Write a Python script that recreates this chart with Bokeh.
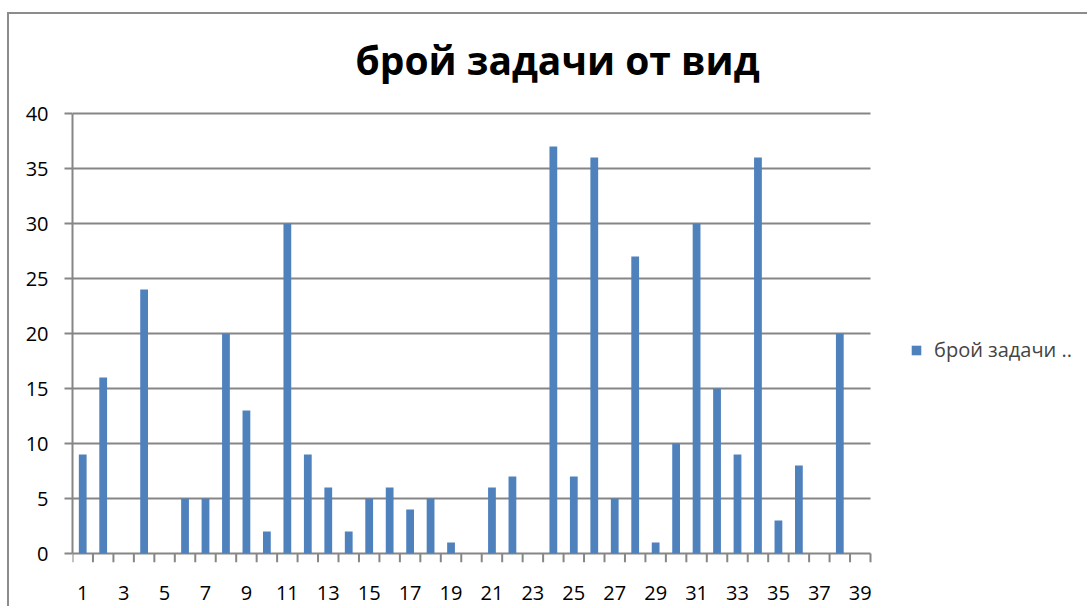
from bokeh.plotting import figure
from bokeh.models import FixedTicker, Legend, LegendItem, ColumnDataSource, Range1d, Label
from bokeh.embed import file_html
from bokeh.resources import INLINE

categories = list(range(1, 40))
values = [9, 16, 0, 24, 0, 5, 5, 20, 13, 2, 30, 9, 6, 2, 5, 6, 4, 5, 1, 0,
          6, 7, 0, 37, 7, 36, 5, 27, 1, 10, 30, 15, 9, 36, 3, 8, 0, 20, 0]
y_ticks = [0, 5, 10, 15, 20, 25, 30, 35, 40]
x_tick_values = [c for c in categories if c % 2 == 1]
series_name = "брой задачи .."
title_text = "брой задачи от вид"

FONT = "Open Sans"
BAR = "#4F81BD"
GRID = "#868686"

# pixel layout (canvas coordinates)
CANVAS_W, CANVAS_H = 1080, 594
LEFT, BOTTOM = 63, 46          # frame: x 63..1080, y 0..548
PLOT_TOP, PLOT_H = 99, 440     # where y=40 .. y=0 sit inside the frame
TICK_PX = 9
CAT_PX = 798                   # width in px taken by the category axis
frame_w = CANVAS_W - LEFT
x0 = categories[0] - 0.5
x1 = categories[-1] + 0.5
x_end = x0 + (x1 - x0) * frame_w / CAT_PX
px_per_unit = PLOT_H / (y_ticks[-1] - y_ticks[0])
y_start = y_ticks[0] - TICK_PX / px_per_unit
y_end = y_ticks[-1] + PLOT_TOP / px_per_unit

src = ColumnDataSource(dict(x=categories, top=values))

p = figure(width=CANVAS_W, height=CANVAS_H, output_backend="svg", toolbar_location=None,
           x_range=Range1d(x0, x_end), y_range=Range1d(y_start, y_end),
           min_border_left=LEFT, min_border_right=0, min_border_top=0, min_border_bottom=BOTTOM)
p.outline_line_color = None
p.styles = {"border-top": "2px solid #8c8c8c", "border-left": "2px solid #8c8c8c",
            "margin-left": "7px", "margin-top": "12px"}

# horizontal gridlines limited to the category area (y=0 one is the x axis line)
grid_src = ColumnDataSource(dict(y=y_ticks, xa=[x0] * len(y_ticks), xb=[x1] * len(y_ticks)))
p.segment(x0="xa", x1="xb", y0="y", y1="y", source=grid_src, line_color=GRID, line_width=2)

# category separator tick marks below the x axis
bounds = [c - 0.5 for c in categories] + [x1]
tick_src = ColumnDataSource(dict(x=bounds, ya=[y_ticks[0]] * len(bounds), yb=[y_start] * len(bounds)))
p.segment(x0="x", x1="x", y0="ya", y1="yb", source=tick_src, line_color=GRID, line_width=2)

r = p.vbar(x="x", top="top", width=0.38, source=src, fill_color=BAR, line_color=None)

# title (centred over the chart area)
title = Label(x=485, y=503, x_units="screen", y_units="screen", text=title_text,
              text_font=FONT, text_font_size="39px", text_font_style="bold",
              text_align="center", text_baseline="middle", text_color="black")
p.add_layout(title)

# x axis: labels only
p.xaxis.ticker = FixedTicker(ticks=x_tick_values, minor_ticks=[])
p.xaxis.major_tick_out = 0
p.xaxis.major_tick_in = 0
p.xaxis.axis_line_color = None
p.xaxis.major_label_standoff = 23
p.xaxis.major_label_text_font = FONT
p.xaxis.major_label_text_font_size = "20px"
p.xaxis.major_label_text_color = "black"

# y axis
p.yaxis.bounds = (y_ticks[0], y_ticks[-1])
p.yaxis.ticker = FixedTicker(ticks=y_ticks, minor_ticks=[])
p.yaxis.major_tick_out = 8
p.yaxis.major_tick_in = 0
p.yaxis.major_tick_line_color = GRID
p.yaxis.major_tick_line_width = 2
p.yaxis.axis_line_color = GRID
p.yaxis.axis_line_width = 2
p.yaxis.major_label_standoff = 16
p.yaxis.major_label_text_font = FONT
p.yaxis.major_label_text_font_size = "20px"
p.yaxis.major_label_text_color = "black"

p.xgrid.grid_line_color = None
p.ygrid.grid_line_color = None

legend = Legend(items=[LegendItem(label=series_name, renderers=[r])],
                location=(838, 199), border_line_color=None, background_fill_alpha=0,
                label_text_font=FONT, label_text_font_size="20px",
                glyph_width=12, glyph_height=12, padding=0, margin=0, label_standoff=12)
p.add_layout(legend, "center")

open("out.html", "w").write(file_html(p, INLINE))
